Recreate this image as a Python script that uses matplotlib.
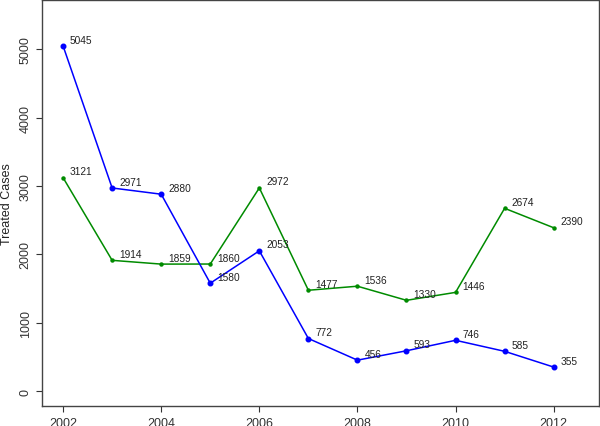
import matplotlib.pyplot as plt

plt.rcParams['font.family'] = ['Liberation Sans', 'DejaVu Sans']

years = [2002, 2003, 2004, 2005, 2006, 2007, 2008, 2009, 2010, 2011, 2012]
blue_cases = [5045, 2971, 2880, 1580, 2053, 772, 456, 593, 746, 585, 355]
green_cases = [3121, 1914, 1859, 1860, 2972, 1477, 1536, 1330, 1446, 2674, 2390]
x_ticks = [2002, 2004, 2006, 2008, 2010, 2012]
y_ticks = [0, 1000, 2000, 3000, 4000, 5000]

fig = plt.figure(figsize=(6, 4.27), dpi=100)
ax = fig.add_axes([0.07, 0.046, 0.928, 0.952])

ax.plot(years, green_cases, color="#008b00", lw=1.1, marker="o", ms=2.2)
ax.plot(years, blue_cases, color="#0000ff", lw=1.1, marker="o", ms=3.3)

for x, y in zip(years, green_cases):
    ax.annotate(str(y), (x, y), xytext=(5, 2.5), textcoords="offset points",
                fontsize=7.3, color="#222222")
for x, y in zip(years, blue_cases):
    ax.annotate(str(y), (x, y), xytext=(5, 2.5), textcoords="offset points",
                fontsize=7.3, color="#222222")

ax.set_xlim(2001.57, 2012.92)
ax.set_ylim(-219, 5719)
ax.set_xticks(x_ticks)
ax.set_yticks(y_ticks)
ax.set_yticklabels([str(v) for v in y_ticks], rotation=90, va="center")
ax.tick_params(direction="out", length=4, labelsize=9, colors="#333333", pad=3.5)
ax.set_ylabel("Treated Cases", fontsize=9, color="#222222", labelpad=5)
for s in ax.spines.values():
    s.set_color("#444444")
    s.set_linewidth(1)

fig.savefig("out.png", dpi=100)
